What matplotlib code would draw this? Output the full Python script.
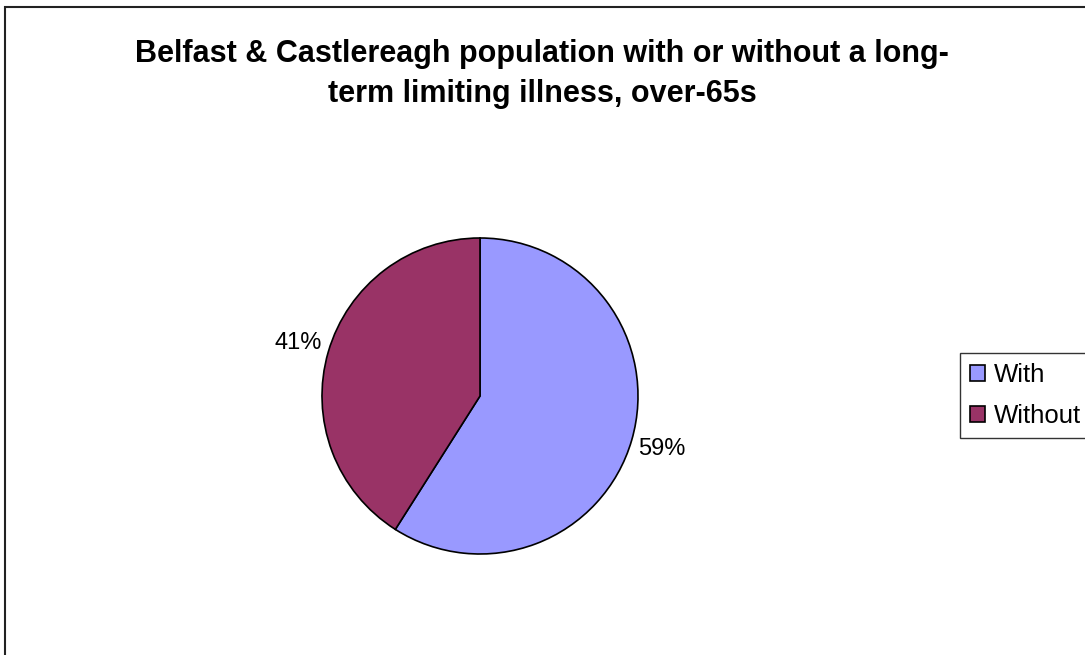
import matplotlib.pyplot as plt
from matplotlib.patches import Rectangle, Patch

title = "Belfast & Castlereagh population with or without a long-\nterm limiting illness, over-65s"
categories = ["With", "Without"]
shares = [59, 41]
colors = ["#9999FF", "#993366"]

plt.rcParams["font.family"] = ["Liberation Sans", "DejaVu Sans"]

W, H = 1085, 655
fig = plt.figure(figsize=(W / 100, H / 100), dpi=100)
fig.patch.set_facecolor("white")

# outer chart border (runs off right and bottom)
fig.patches.append(Rectangle((5 / W, -0.1), 1.2, 1.1 - 7 / H, transform=fig.transFigure,
                             fill=False, edgecolor="#222222", linewidth=1.5))

fig.text(542 / W, 1 - 74 / H, title, ha="center", va="center", fontsize=22,
         fontweight="bold", linespacing=1.45)

cx, cy, r = 480, 396, 158
ax = fig.add_axes([(cx - r) / W, (H - cy - r) / H, 2 * r / W, 2 * r / H])
wedges, texts, autotexts = ax.pie(shares, colors=colors, startangle=90, counterclock=False,
                                  autopct=lambda p: "%d%%" % round(p), pctdistance=1.2,
                                  wedgeprops=dict(edgecolor="black", linewidth=1.2))
for t in autotexts:
    t.set_fontsize(17)
    t.set_clip_on(False)
ax.set_xlim(-1, 1)
ax.set_ylim(-1, 1)
ax.set_aspect("equal")
ax.axis("off")

handles = [Patch(facecolor=c, edgecolor="black", linewidth=1.2) for c in colors]
leg = fig.legend(handles, categories, loc="upper left", bbox_to_anchor=(960 / W, 1 - 353 / H),
                 fontsize=18.5, frameon=True, fancybox=False, handlelength=0.58, handleheight=0.58,
                 handletextpad=0.35, borderpad=0.4, labelspacing=0.65, borderaxespad=0)
leg.get_frame().set_edgecolor("black")
leg.get_frame().set_linewidth(1)

fig.savefig("out.png", dpi=100, facecolor="white")
